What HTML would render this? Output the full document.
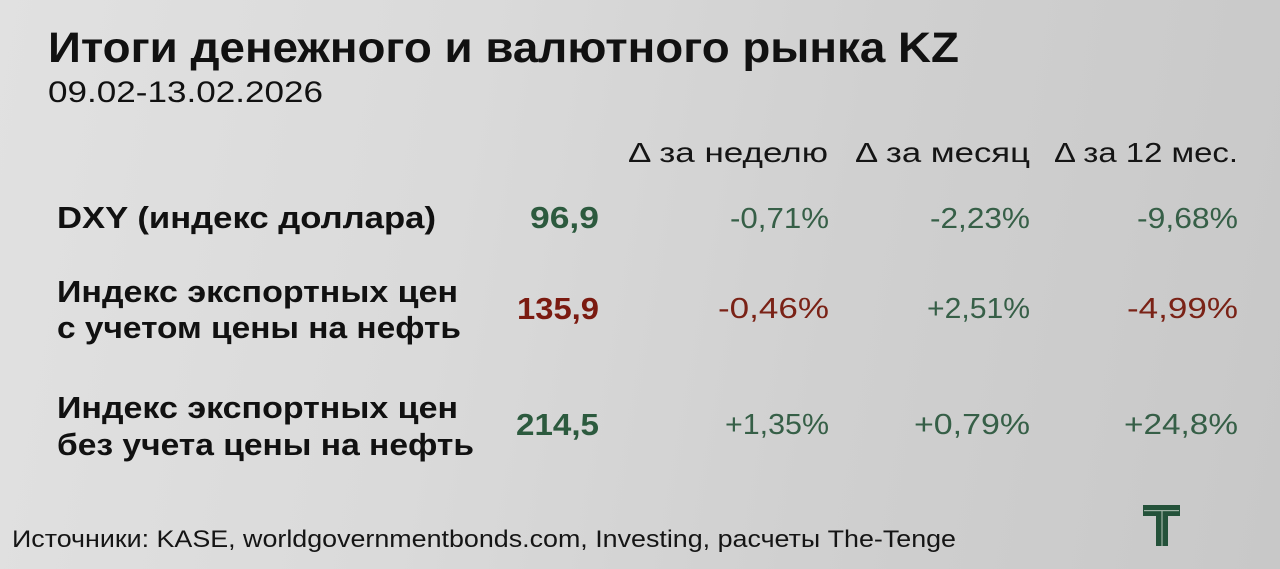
<!DOCTYPE html>
<html>
<head>
<meta charset="utf-8">
<style>
  html, body { margin:0; padding:0; }
  body { width:1280px; height:569px; overflow:hidden;
    background: linear-gradient(100deg, #e1e1e1 0%, #dadada 35%, #d0d0d0 65%, #c8c8c8 100%); }
  svg { display:block; }
  text { font-family: "Liberation Sans", "Noto Sans CJK SC", sans-serif; }
  .b { font-weight: bold; }
</style>
</head>
<body>
<svg width="1280" height="569" viewBox="0 0 1280 569" xmlns="http://www.w3.org/2000/svg">
  <!-- Title -->
  <text x="48" y="62" class="b" font-size="43" fill="#111" textLength="911" lengthAdjust="spacingAndGlyphs">Итоги денежного и валютного рынка KZ</text>
  <text x="48" y="102" font-size="30" fill="#111" textLength="275" lengthAdjust="spacingAndGlyphs">09.02-13.02.2026</text>

  <!-- Headers -->
  <text x="628" y="162" font-size="28" fill="#151515" textLength="200" lengthAdjust="spacingAndGlyphs">Δ за неделю</text>
  <text x="855" y="162" font-size="28" fill="#151515" textLength="175" lengthAdjust="spacingAndGlyphs">Δ за месяц</text>
  <text x="1054" y="162" font-size="28" fill="#151515" textLength="184" lengthAdjust="spacingAndGlyphs">Δ за 12 мес.</text>

  <!-- Row 1 -->
  <text x="57" y="228" class="b" font-size="31" fill="#111" textLength="379" lengthAdjust="spacingAndGlyphs">DXY (индекс доллара)</text>
  <text x="599" y="228" class="b" font-size="31" fill="#2c5a3e" text-anchor="end" textLength="69" lengthAdjust="spacingAndGlyphs">96,9</text>
  <text x="829" y="228" font-size="29" fill="#365f47" text-anchor="end" textLength="99" lengthAdjust="spacingAndGlyphs">-0,71%</text>
  <text x="1030" y="228" font-size="29" fill="#365f47" text-anchor="end" textLength="100" lengthAdjust="spacingAndGlyphs">-2,23%</text>
  <text x="1238" y="228" font-size="29" fill="#365f47" text-anchor="end" textLength="101" lengthAdjust="spacingAndGlyphs">-9,68%</text>

  <!-- Row 2 -->
  <text x="57" y="302" class="b" font-size="31" fill="#111" textLength="401" lengthAdjust="spacingAndGlyphs">Индекс экспортных цен</text>
  <text x="57" y="338" class="b" font-size="31" fill="#111" textLength="404" lengthAdjust="spacingAndGlyphs">с учетом цены на нефть</text>
  <text x="599" y="319" class="b" font-size="31" fill="#7b1a10" text-anchor="end" textLength="82" lengthAdjust="spacingAndGlyphs">135,9</text>
  <text x="829" y="318" font-size="29" fill="#7a2216" text-anchor="end" textLength="111" lengthAdjust="spacingAndGlyphs">-0,46%</text>
  <text x="1030" y="318" font-size="29" fill="#365f47" text-anchor="end" textLength="103" lengthAdjust="spacingAndGlyphs">+2,51%</text>
  <text x="1238" y="318" font-size="29" fill="#7a2216" text-anchor="end" textLength="111" lengthAdjust="spacingAndGlyphs">-4,99%</text>

  <!-- Row 3 -->
  <text x="57" y="418" class="b" font-size="31" fill="#111" textLength="401" lengthAdjust="spacingAndGlyphs">Индекс экспортных цен</text>
  <text x="57" y="455" class="b" font-size="31" fill="#111" textLength="417" lengthAdjust="spacingAndGlyphs">без учета цены на нефть</text>
  <text x="599" y="435" class="b" font-size="31" fill="#2c5a3e" text-anchor="end" textLength="83" lengthAdjust="spacingAndGlyphs">214,5</text>
  <text x="829" y="434" font-size="29" fill="#365f47" text-anchor="end" textLength="104" lengthAdjust="spacingAndGlyphs">+1,35%</text>
  <text x="1030" y="434" font-size="29" fill="#365f47" text-anchor="end" textLength="116" lengthAdjust="spacingAndGlyphs">+0,79%</text>
  <text x="1238" y="434" font-size="29" fill="#365f47" text-anchor="end" textLength="114" lengthAdjust="spacingAndGlyphs">+24,8%</text>

  <!-- Footer -->
  <text x="12" y="547" font-size="24" fill="#151515" textLength="944" lengthAdjust="spacingAndGlyphs">Источники: KASE, worldgovernmentbonds.com, Investing, расчеты The-Tenge</text>

  <!-- Logo -->
  <g fill="#24523a">
    <rect x="1143" y="505" width="37" height="11"/>
    <rect x="1156" y="516" width="12" height="30"/>
  </g>
  <rect x="1144" y="510" width="35" height="1.2" fill="#9fb3a6"/>
  <rect x="1161.4" y="511" width="1.2" height="35" fill="#9fb3a6"/>
</svg>
</body>
</html>
